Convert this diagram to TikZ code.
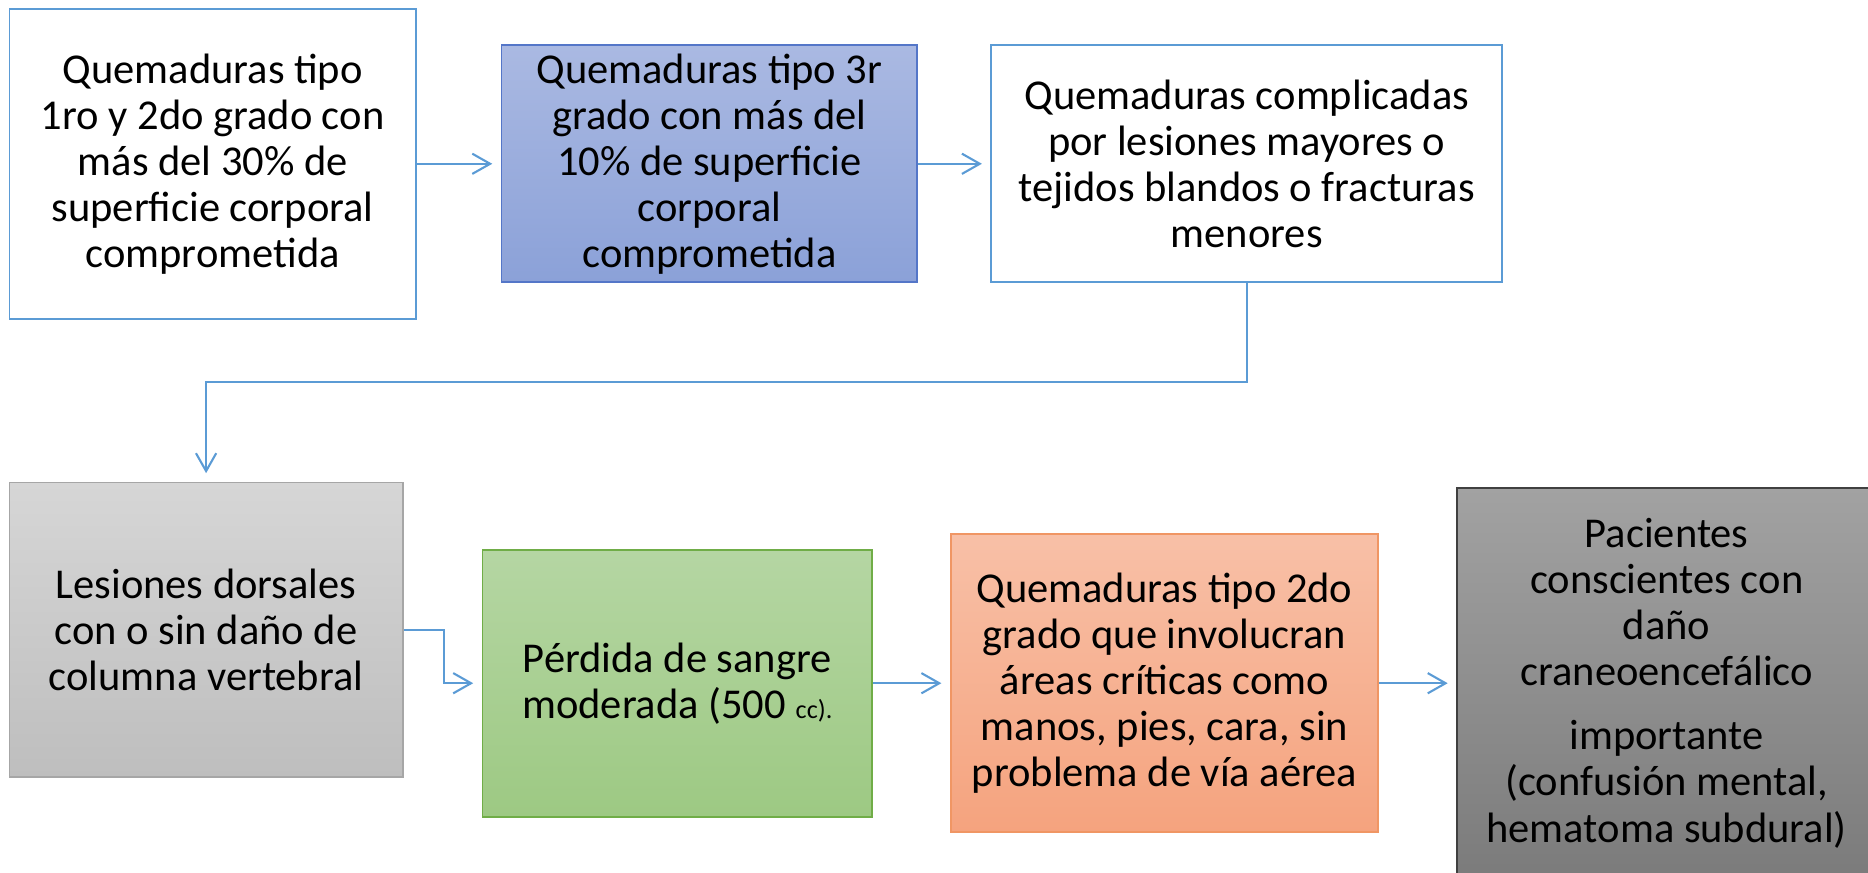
\documentclass[tikz,border=0pt]{standalone}
\usepackage{fontspec}
\setmainfont{Carlito}
\usetikzlibrary{arrows.meta}
\definecolor{fc_line}{RGB}{91, 155, 213}
\definecolor{fc_blueline}{RGB}{84, 118, 200}
\definecolor{fc_bluetop}{RGB}{170, 185, 226}
\definecolor{fc_bluebot}{RGB}{139, 161, 216}
\definecolor{fc_greyline}{RGB}{166, 166, 166}
\definecolor{fc_greytop}{RGB}{214, 214, 214}
\definecolor{fc_greybot}{RGB}{190, 190, 190}
\definecolor{fc_greenline}{RGB}{112, 173, 71}
\definecolor{fc_greentop}{RGB}{181, 214, 163}
\definecolor{fc_greenbot}{RGB}{157, 201, 131}
\definecolor{fc_orangeline}{RGB}{240, 150, 100}
\definecolor{fc_orangetop}{RGB}{248, 192, 167}
\definecolor{fc_orangebot}{RGB}{245, 163, 126}
\definecolor{fc_darkline}{RGB}{64, 64, 64}
\definecolor{fc_darktop}{RGB}{162, 162, 162}
\definecolor{fc_darkbot}{RGB}{123, 123, 123}
\tikzstyle{stage}=[rectangle,line width=0.9 pt,align=center,inner sep=2pt,
  font=\fontsize{20.3}{22}\selectfont]
\tikzstyle{wbox}=[stage,draw=fc_line,fill=white]
\tikzstyle{bbox}=[stage,draw=fc_blueline,top color=fc_bluetop,bottom color=fc_bluebot]
\tikzstyle{gbox}=[stage,draw=fc_greyline,top color=fc_greytop,bottom color=fc_greybot]
\tikzstyle{vbox}=[stage,draw=fc_greenline,top color=fc_greentop,bottom color=fc_greenbot]
\tikzstyle{obox}=[stage,draw=fc_orangeline,top color=fc_orangetop,bottom color=fc_orangebot]
\tikzstyle{dbox}=[stage,draw=fc_darkline,top color=fc_darktop,bottom color=fc_darkbot]
\tikzstyle{conn}=[draw=fc_line,line width=1 pt,
  -{Straight Barb[length=0.3cm,width=0.34cm]},shorten >=0.14cm]

\begin{document}
\begin{tikzpicture}
        \clip (0,0) rectangle (31.36,14.64);
        \node [style=wbox,minimum width=6.82cm,minimum height=5.20cm] (b1) at (3.57,11.89)
          {Quemaduras tipo\\1ro y 2do grado con\\más del 30\% de\\superficie corporal\\comprometida};
        \node [style=bbox,minimum width=6.98cm,minimum height=3.98cm] (b2) at (11.91,11.89)
          {Quemaduras tipo 3r\\grado con más del\\10\% de superficie\\corporal\\comprometida};
        \node [style=wbox,minimum width=8.58cm,minimum height=3.98cm] (b3) at (20.93,11.89)
          {Quemaduras complicadas\\por lesiones mayores o\\tejidos blandos o fracturas\\menores};
        \node [style=gbox,minimum width=6.60cm,minimum height=4.94cm] (b4) at (3.46,4.07)
          {Lesiones dorsales\\con o sin daño de\\columna vertebral};
        \node [style=vbox,minimum width=6.54cm,minimum height=4.48cm] (b5) at (11.37,3.17)
          {Pérdida de sangre\\moderada (500 {\fontsize{12.5}{14}\selectfont cc).}};
        \node [style=obox,minimum width=7.18cm,minimum height=5.00cm] (b6) at (19.55,3.17)
          {Quemaduras tipo 2do\\grado que involucran\\áreas críticas como\\manos, pies, cara, sin\\problema de vía aérea};
        \node [style=dbox,minimum width=7.04cm,minimum height=6.56cm] (b7) at (27.98,3.17)
          {Pacientes\\conscientes con\\daño\\craneoencefálico\\[0.3cm]importante\\(confusión mental,\\hematoma subdural)};
        \coordinate (turn) at (12,8.22);
        \draw [conn] (b1) to (b2);
        \draw [conn] (b2) to (b3);
        \draw [conn] (b3.south) |- (turn) -| (b4.north);
        \draw [conn] (b4.east) -- ++(0.68,0) |- (b5.west);
        \draw [conn] (b5) to (b6);
        \draw [conn] (b6) to (b7);
    \end{tikzpicture}
\end{document}
